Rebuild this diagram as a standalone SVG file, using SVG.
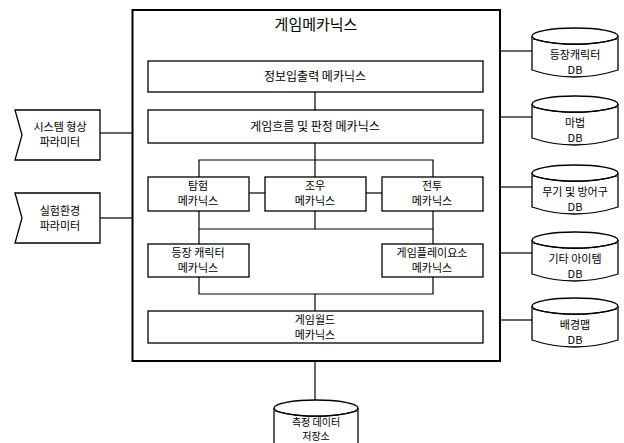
<svg xmlns="http://www.w3.org/2000/svg" width="624" height="443" viewBox="0 0 624 443">
<style>
.b{fill:#fff;stroke:#000;stroke-width:1.3}
.m{fill:none;stroke:#000;stroke-width:2}
.c{fill:none;stroke:#000;stroke-width:1.2}
.t{font-family:"Noto Sans CJK KR","Noto Sans",sans-serif;font-size:11px;text-anchor:middle;fill:#000}
.l{font-size:12px}
.s{font-size:10px}
.tt{font-family:"Noto Sans CJK KR","Noto Sans",sans-serif;font-size:15px;text-anchor:middle;fill:#000}
</style>
<defs>
<g id="cyl">
<path class="b" d="M0,8 L0,42 Q42,56 86,42 L86,8"/>
<ellipse class="b" cx="43" cy="8" rx="43" ry="8"/>
<path class="c" d="M1,11 Q43,22 85,11"/>
</g>
</defs>
<g id="connectors" class="c">
<line x1="100" y1="133" x2="132" y2="133"/>
<line x1="100" y1="218" x2="132" y2="218"/>
<line x1="500" y1="51" x2="532" y2="51"/>
<line x1="500" y1="117" x2="532" y2="117"/>
<line x1="500" y1="187" x2="532" y2="187"/>
<line x1="500" y1="253" x2="532" y2="253"/>
<line x1="500" y1="320" x2="532" y2="320"/>
<line x1="315" y1="92" x2="315" y2="110"/>
<line x1="315" y1="143" x2="315" y2="177"/>
<polyline points="199,177 199,160 433,160 433,177"/>
<line x1="249" y1="193" x2="265" y2="193"/>
<line x1="366" y1="193" x2="382" y2="193"/>
<line x1="315" y1="211" x2="315" y2="229"/>
<line x1="199" y1="211" x2="199" y2="244"/>
<line x1="433" y1="211" x2="433" y2="244"/>
<line x1="199" y1="229" x2="433" y2="229"/>
<polyline points="199,277 199,294 433,294 433,277"/>
<line x1="315" y1="294" x2="315" y2="311"/>
<line x1="315" y1="361" x2="315" y2="400"/>
</g>
<g id="main">
<rect class="m" x="132.5" y="10" width="367.5" height="351"/>
<text class="tt" x="316" y="30">게임메카닉스</text>
</g>
<g id="io">
<rect class="b" x="148" y="61" width="335" height="31"/>
<text class="t l" x="315" y="81">정보입출력 메카닉스</text>
</g>
<g id="flow">
<rect class="b" x="148" y="110" width="335" height="33"/>
<text class="t l" x="315" y="131">게임흐름 및 판정 메카닉스</text>
</g>
<g id="explore">
<rect class="b" x="148" y="177" width="101" height="34"/>
<text class="t" x="198" y="190">탐험</text>
<text class="t" x="198" y="205">메카닉스</text>
</g>
<g id="encounter">
<rect class="b" x="265" y="177" width="101" height="34"/>
<text class="t" x="315" y="190">조우</text>
<text class="t" x="315" y="205">메카닉스</text>
</g>
<g id="battle">
<rect class="b" x="382" y="177" width="101" height="34"/>
<text class="t" x="432" y="190">전투</text>
<text class="t" x="432" y="205">메카닉스</text>
</g>
<g id="character">
<rect class="b" x="148" y="244" width="101" height="33"/>
<text class="t" x="198" y="257">등장 캐릭터</text>
<text class="t" x="198" y="272">메카닉스</text>
</g>
<g id="gameplay">
<rect class="b" x="382" y="244" width="101" height="33"/>
<text class="t" x="432" y="257">게임플레이요소</text>
<text class="t" x="432" y="272">메카닉스</text>
</g>
<g id="world">
<rect class="b" x="148" y="311" width="335" height="32"/>
<text class="t" x="315" y="324">게임월드</text>
<text class="t" x="315" y="339">메카닉스</text>
</g>
<g id="sysparam">
<path class="b" d="M15,110 L100,110 L100,160 L15,160 L22,135 Z"/>
<text class="t" x="60" y="131">시스템 형상</text>
<text class="t" x="60" y="146">파라미터</text>
</g>
<g id="expparam">
<path class="b" d="M15,193 L100,193 L100,243 L15,243 L22,218 Z"/>
<text class="t" x="60" y="215">실험환경</text>
<text class="t" x="60" y="230">파라미터</text>
</g>
<g id="db1">
<use href="#cyl" x="532" y="28"/>
<text class="t" x="575" y="59">등장캐릭터</text>
<text class="t" x="575" y="74">DB</text>
</g>
<g id="db2">
<use href="#cyl" x="532" y="96"/>
<text class="t" x="575" y="127">마법</text>
<text class="t" x="575" y="142">DB</text>
</g>
<g id="db3">
<use href="#cyl" x="532" y="165"/>
<text class="t" x="575" y="196">무기 및 방어구</text>
<text class="t" x="575" y="211">DB</text>
</g>
<g id="db4">
<use href="#cyl" x="532" y="232"/>
<text class="t" x="575" y="263">기타 아이템</text>
<text class="t" x="575" y="278">DB</text>
</g>
<g id="db5">
<use href="#cyl" x="532" y="298"/>
<text class="t" x="575" y="329">배경맵</text>
<text class="t" x="575" y="344">DB</text>
</g>
<g id="store">
<path class="b" d="M274,408 L274,445 L358,445 L358,408"/>
<ellipse class="b" cx="316" cy="408" rx="42" ry="8"/>
<path class="c" d="M275,411 Q316,422 357,411"/>
<text class="t s" x="316" y="426">측정 데이터</text>
<text class="t s" x="316" y="440">저장소</text>
</g>
</svg>
